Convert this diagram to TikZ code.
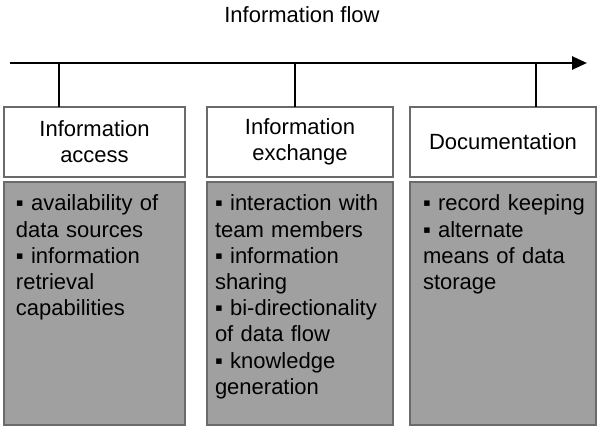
\documentclass[tikz,border=0pt]{standalone}
\usepackage{fontspec}
\setmainfont{Liberation Sans}
\usetikzlibrary{arrows.meta,calc}
\definecolor{boxgray}{HTML}{A0A0A0}
\definecolor{edgegray}{HTML}{6A6A6A}
\begin{document}
\begin{tikzpicture}[x=1pt,y=-1pt,
  every node/.style={inner sep=0pt,outer sep=0pt},
  headbox/.style={draw=edgegray,line width=1.2pt,fill=white,anchor=north west,
    minimum width=#1,minimum height=70pt,align=center,font=\fontsize{22}{26}\selectfont},
  listbox/.style={draw=edgegray,line width=1.2pt,fill=boxgray,anchor=north west,
    minimum width=#1,minimum height=243pt},
  listtext/.style={anchor=north west,align=left,text width=180pt,
    font=\fontsize{22}{26.2}\selectfont},
  flow/.style={line width=2.6pt},
  tick/.style={line width=2.2pt}]
\useasboundingbox (0,0) rectangle (601,429);
\node[font=\fontsize{22}{26}\selectfont] (title) at (302,15) {Information flow};
\coordinate (as) at (10,63);
\coordinate (ae) at (587,63);
\draw[flow,-{Triangle[length=15pt,width=13pt]}] (as) -- (ae);
\node[headbox=181pt] (h1) at (4,107) {Information\\access};
\node[headbox=186pt] (h2) at (207,107) {Information\\exchange};
\node[headbox=186pt] (h3) at (410,107) {Documentation};
\node[listbox=181pt] (b1) at (4,182) {};
\node[listbox=186pt] (b2) at (207,182) {};
\node[listbox=186pt] (b3) at (410,182) {};
\node[listtext] (t1) at ([xshift=12pt,yshift=-13pt]b1.north west) {▪ availability of\\data sources\\▪ information\\retrieval\\capabilities};
\node[listtext] (t2) at ([xshift=8pt,yshift=-13pt]b2.north west) {▪ interaction with\\team members\\▪ information\\sharing\\▪ bi-directionality\\of data flow\\▪ knowledge\\generation};
\node[listtext] (t3) at ([xshift=13pt,yshift=-13pt]b3.north west) {▪ record keeping\\▪ alternate\\means of data\\storage};
\draw[tick] ([xshift=55pt]h1.north west) -- ([xshift=55pt]h1.north west |- as);
\draw[tick] ([xshift=88pt]h2.north west) -- ([xshift=88pt]h2.north west |- as);
\draw[tick] ([xshift=126pt]h3.north west) -- ([xshift=126pt]h3.north west |- as);
\end{tikzpicture}
\end{document}
